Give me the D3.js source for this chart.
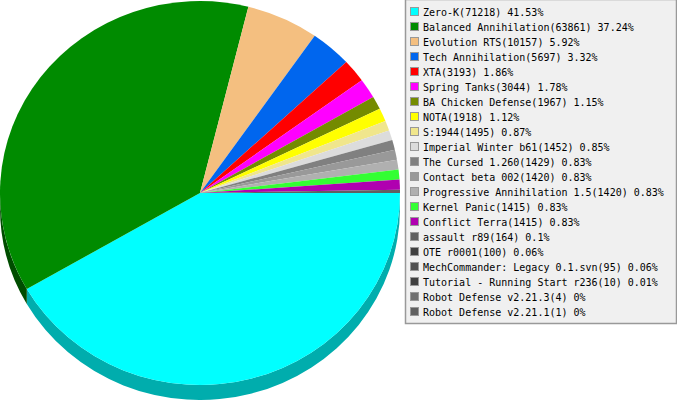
<!DOCTYPE html>
<html><head><meta charset="utf-8">
<script src="https://cdn.jsdelivr.net/npm/d3@7"></script>
<style>html,body{margin:0;padding:0;background:#fff}svg{display:block}</style></head>
<body><svg id="c" width="677" height="400"></svg>
<script>
const names = ["Zero-K","Balanced Annihilation","Evolution RTS","Tech Annihilation","XTA","Spring Tanks","BA Chicken Defense","NOTA","S:1944","Imperial Winter b61","The Cursed 1.260","Contact beta 002","Progressive Annihilation 1.5","Kernel Panic","Conflict Terra","assault r89","OTE r0001","MechCommander: Legacy 0.1.svn","Tutorial - Running Start r236","Robot Defense v2.21.3","Robot Defense v2.21.1"];
const counts = [71218,63861,10157,5697,3193,3044,1967,1918,1495,1452,1429,1420,1420,1415,1415,164,100,95,10,4,1];
const percents = ["41.53","37.24","5.92","3.32","1.86","1.78","1.15","1.12","0.87","0.85","0.83","0.83","0.83","0.83","0.83","0.1","0.06","0.06","0.01","0","0"];
const colors = ["#00ffff","#008b00","#f4bf80","#0066ee","#ff0000","#ff00ff","#748b00","#ffff00","#f0e68c","#dcdcdc","#808080","#999999","#b0b0b0","#33ff33","#b000b0","#606060","#404040","#505050","#404040","#707070","#606060"];
const wallColors = ["#00adad","#004d00"];

const svg = d3.select("#c");
const cx = 200, cy = 193, rx = 200, ry = 192, depth = 15;
const pie = d3.pie().sort(null).value(d=>d).startAngle(Math.PI/2).endAngle(Math.PI*2.5);
const toDeg = a => Math.round(a*180/Math.PI)*Math.PI/180;
const arcs = pie(counts).map(a=>({...a,startAngle:toDeg(a.startAngle),endAngle:toDeg(a.endAngle)}));
const arc = d3.arc().innerRadius(0).outerRadius(rx);
const g = svg.append("g").attr("transform",`translate(${cx},${cy}) scale(1,${ry/rx})`);
const dy = depth*rx/ry;
arcs.forEach((a,i)=>{
  const s = Math.max(a.startAngle, Math.PI/2), e = Math.min(a.endAngle, Math.PI*1.5);
  if (e<=s) return;
  const p = d3.path();
  const A0=s-Math.PI/2, A1=e-Math.PI/2;
  p.moveTo(rx*Math.cos(A0), rx*Math.sin(A0));
  p.arc(0,0,rx,A0,A1,false);
  p.lineTo(rx*Math.cos(A1), rx*Math.sin(A1)+dy);
  p.arc(0,dy,rx,A1,A0,true);
  p.closePath();
  g.append("path").attr("d",p.toString()).attr("fill",wallColors[i]||"#555");
});
g.selectAll("path.s").data(arcs).join("path").attr("class","s").attr("d",arc).attr("fill",(d,i)=>colors[i]);

const lx=405, ly=0, lw=271, lh=324, step=15;
const L = svg.append("g");
L.append("rect").attr("x",lx+.5).attr("y",ly+.5-1).attr("width",lw).attr("height",lh).attr("fill","#f0f0f0").attr("stroke","#999").attr("stroke-width",1.5);
const rows = L.selectAll("g").data(names).join("g").attr("transform",(d,i)=>`translate(0,${11.5+i*step})`);
rows.append("rect").attr("x",410.5).attr("y",-4).attr("width",8).attr("height",8).attr("fill",(d,i)=>colors[i]).attr("stroke","#999");
rows.append("text").attr("x",423).attr("y",4).attr("font-family","'DejaVu Sans Mono',monospace").attr("font-size",10).attr("fill","#000")
  .text((d,i)=>`${d}(${counts[i]}) ${percents[i]}%`);
</script></body></html>
